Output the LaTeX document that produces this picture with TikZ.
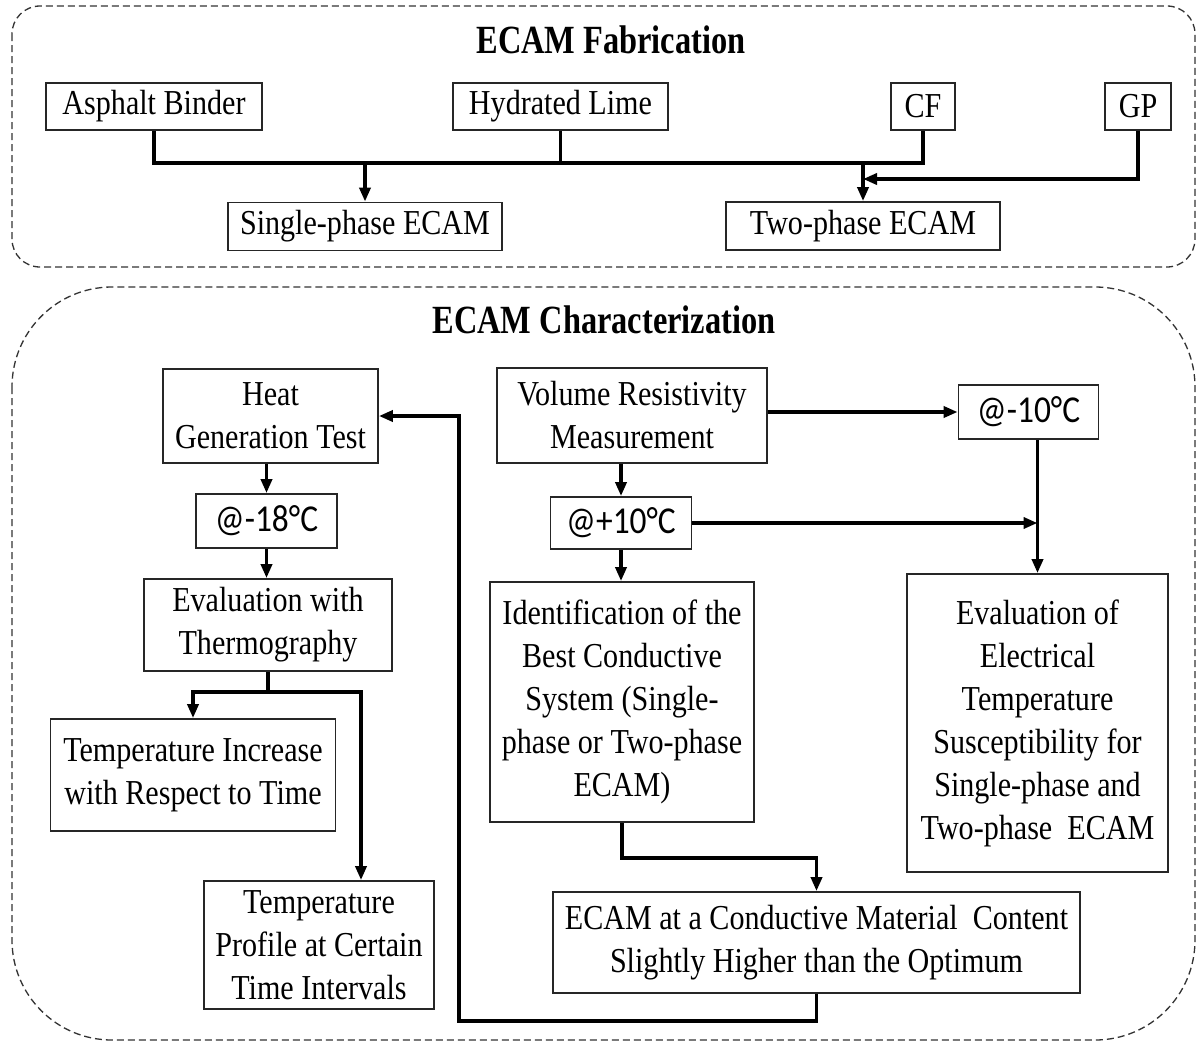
\documentclass[tikz,border=0pt]{standalone}
\usepackage{fontspec}
\setmainfont[FakeStretch=0.86]{Liberation Serif}
\newfontfamily\titlefont[FakeStretch=0.81]{Liberation Serif}
\newfontfamily\calfont[FakeStretch=0.88]{Carlito}
\usetikzlibrary{arrows.meta}
\begin{document}
\begin{tikzpicture}[x=1pt,y=-1pt,
 box/.style={draw=black!85, line width=1.8pt, inner sep=0pt, align=center, font=\fontsize{35}{43}\selectfont},
 tbox/.style={box, font=\calfont\fontsize{38}{44}\selectfont},
 conn/.style={line width=3.6pt, line join=miter},
 arr/.style={conn, -{Triangle[length=14pt,width=11pt]}},
 region/.style={draw=black!80, line width=1.3pt, dash pattern=on 7pt off 4pt},
 ttl/.style={font=\titlefont\fontsize{40}{48}\selectfont\bfseries}]
\fill[white] (0,0) rectangle (1198,1044);
\useasboundingbox (0,0) rectangle (1198,1044);
\draw[region, rounded corners=28pt] (12,6) rectangle (1195,267);
\draw[region, rounded corners=100pt] (12,287) rectangle (1195,1040);
\node[ttl] (t1) at (611,40) {ECAM Fabrication};
\node[ttl] (t2) at (604,320) {ECAM Characterization};
% fabrication
\node[box, minimum width=216pt, minimum height=47pt] (ab) at (154,106.5) {Asphalt Binder};
\node[box, minimum width=215pt, minimum height=47pt] (hl) at (560.5,106.5) {Hydrated Lime};
\node[box, minimum width=64pt, minimum height=47pt] (cf) at (923,106.5) {CF};
\node[box, minimum width=66pt, minimum height=47pt] (gp) at (1138,106.5) {GP};
\node[box, minimum width=274pt, minimum height=48pt] (sp) at (365,226.5) {Single-phase ECAM};
\node[box, minimum width=274pt, minimum height=48pt] (tp) at (863,226) {Two-phase ECAM};
\coordinate (bus) at (0,163);
\coordinate (gpj) at (0,179);
\draw[conn] (ab.south) |- (cf.south|-bus) -- (cf.south);
\draw[conn] (hl.south) -- (hl.south|-bus);
\draw[arr] (sp.north|-bus) -- (sp.north);
\draw[arr] (tp.north|-bus) -- (tp.north);
\draw[arr] (gp.south) |- (tp.north|-gpj);
% characterization
\node[box, minimum width=215pt, minimum height=94pt] (hgt) at (270.5,416) {Heat\\Generation Test};
\node[tbox, minimum width=141pt, minimum height=54pt] (m18) at (266.5,521) {@-18°C};
\node[box, minimum width=248pt, minimum height=92pt] (ewt) at (268,625) {Evaluation with\\Thermography};
\node[box, minimum width=285pt, minimum height=112pt] (tir) at (193,775) {Temperature Increase\\with Respect to Time};
\node[box, minimum width=230pt, minimum height=128pt] (tpc) at (319,945) {Temperature\\Profile at Certain\\Time Intervals};
\node[box, minimum width=270pt, minimum height=95pt] (vrm) at (632,415.5) {Volume Resistivity\\Measurement};
\node[tbox, minimum width=141pt, minimum height=52pt] (p10) at (621,523) {@+10°C};
\node[box, minimum width=264pt, minimum height=240pt] (ibc) at (622,702) {Identification of the\\Best Conductive\\System (Single-\\phase or Two-phase\\ECAM)};
\node[box, minimum width=527pt, minimum height=101pt] (ecm) at (816.5,942.5) {ECAM at a Conductive Material\ \ Content\\Slightly Higher than the Optimum};
\node[tbox, minimum width=140pt, minimum height=54pt] (m10) at (1028.5,412) {@-10°C};
\node[box, minimum width=261pt, minimum height=298pt] (eet) at (1037.5,723) {Evaluation of\\Electrical\\Temperature\\Susceptibility for\\Single-phase and\\Two-phase\ \ ECAM};
\coordinate (br) at (0,692);
\coordinate (kk) at (0,858);
\coordinate (fb) at (459,1021);
\draw[arr] (m18.north|-hgt.south) -- (m18.north);
\draw[arr] (m18.south) -- (m18.south|-ewt.north);
\draw[conn] (ewt.south) -- (ewt.south|-br);
\draw[arr] (ewt.south|-br) -| (tir.north);
\draw[arr] (ewt.south|-br) -| ([xshift=42pt]tpc.north);
\draw[arr] (p10.north|-vrm.south) -- (p10.north);
\draw[arr] (p10.south) -- (p10.south|-ibc.north);
\draw[arr] (ibc.south) -- (ibc.south|-kk) -| (ecm.north);
\draw[arr] (ecm.south) |- (fb) |- (hgt.east);
\draw[arr] (vrm.east|-m10.west) -- (m10.west);
\draw[arr] (eet.north|-m10.south) -- (eet.north);
\draw[arr] (p10.east) -- (eet.north|-p10.east);
\end{tikzpicture}
\end{document}
